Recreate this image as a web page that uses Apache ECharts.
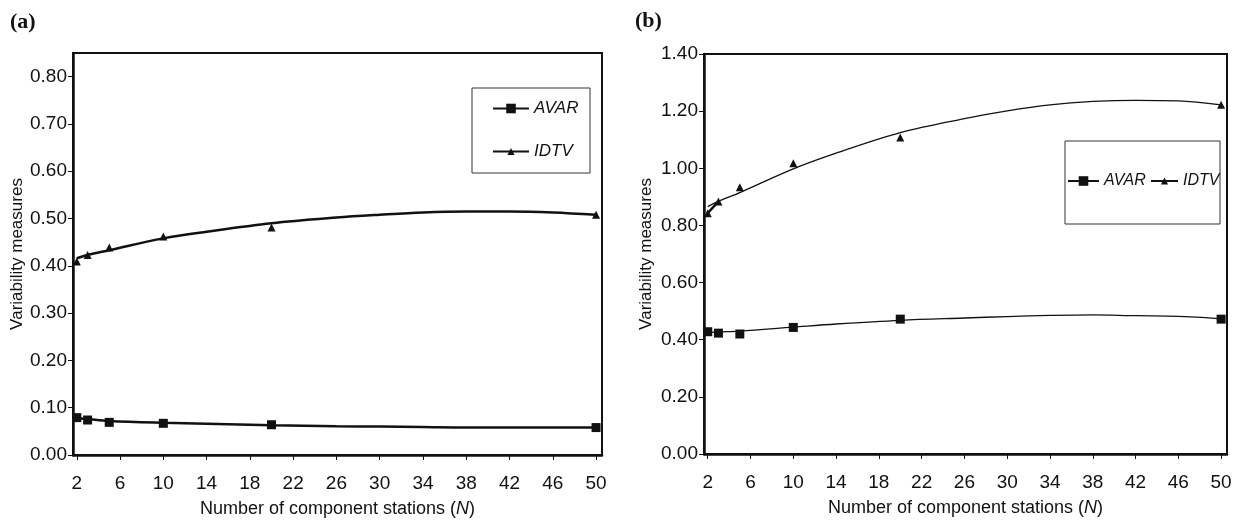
<!DOCTYPE html>
<html>
<head>
<meta charset="utf-8">
<style>
  html, body { margin: 0; padding: 0; background: #fff; }
  #chart { width: 1246px; height: 525px; }
</style>
<script src="https://cdn.jsdelivr.net/npm/echarts@6/dist/echarts.min.js"></script>
</head>
<body>
<div id="chart"></div>
<script>
// measured points
const stations = [2, 3, 5, 10, 20, 50]
const avarA = [0.079, 0.074, 0.069, 0.067, 0.064, 0.058]
const idtvA = [0.409, 0.423, 0.439, 0.462, 0.481, 0.508]
const avarB = [0.428, 0.423, 0.420, 0.443, 0.472, 0.472]
const idtvB = [0.843, 0.884, 0.934, 1.018, 1.108, 1.222]

// fitted trend curves
const trendN = [2, 3, 5, 10, 14, 20, 26, 30, 34, 38, 42, 46, 50]
const avarFitA = [0.078, 0.076, 0.072, 0.068, 0.066, 0.063, 0.061, 0.060, 0.059, 0.058, 0.058, 0.058, 0.058]
const idtvFitA = [0.416, 0.423, 0.433, 0.458, 0.472, 0.490, 0.502, 0.508, 0.513, 0.515, 0.515, 0.513, 0.508]
const avarFitB = [0.425, 0.427, 0.430, 0.444, 0.455, 0.468, 0.476, 0.481, 0.485, 0.487, 0.484, 0.482, 0.473]
const idtvFitB = [0.866, 0.884, 0.915, 0.998, 1.053, 1.125, 1.174, 1.201, 1.222, 1.234, 1.238, 1.236, 1.222]

const xTicks = [2, 6, 10, 14, 18, 22, 26, 30, 34, 38, 42, 46, 50]
const yTicksA = [0, 0.1, 0.2, 0.3, 0.4, 0.5, 0.6, 0.7, 0.8]
const yTicksB = [0, 0.2, 0.4, 0.6, 0.8, 1.0, 1.2, 1.4]

const ink = '#111'
const sans = 'Liberation Sans, Arial, sans-serif'

const pairs = (xs, ys) => xs.map((x, i) => [x, ys[i]])

const xAxisFor = (gridIndex) => ({
  type: 'value',
  gridIndex,
  min: 1.65,
  max: 50.55,
  name: 'Number of component stations ({i|N})',
  nameLocation: 'middle',
  nameGap: 45,
  nameTextStyle: {
    color: ink, fontFamily: sans, fontSize: 18,
    rich: { i: { fontStyle: 'italic', fontFamily: sans, fontSize: 18, color: ink } },
  },
  axisLine: { lineStyle: { color: ink, width: 2.5 } },
  axisTick: { customValues: xTicks, length: 5, lineStyle: { color: ink, width: 1 } },
  axisLabel: { customValues: xTicks, color: ink, fontFamily: sans, fontSize: 19, margin: 19 },
  splitLine: { show: false },
})

const yAxisFor = (gridIndex, max, ticks, gap) => ({
  type: 'value',
  gridIndex,
  min: 0,
  max,
  name: 'Variability measures',
  nameLocation: 'middle',
  nameGap: gap,
  nameTextStyle: { color: ink, fontFamily: sans, fontSize: 17 },
  axisLine: { lineStyle: { color: ink, width: 2.5 } },
  axisTick: { customValues: ticks, length: 5, lineStyle: { color: ink, width: 1 } },
  axisLabel: {
    customValues: ticks, color: ink, fontFamily: sans, fontSize: 19, margin: 6,
    formatter: (v) => v.toFixed(2),
  },
  splitLine: { show: false },
})

const fitLine = (name, idx, data, symbol, width) => ({
  name,
  type: 'line',
  xAxisIndex: idx,
  yAxisIndex: idx,
  data,
  smooth: 0.35,
  symbol,
  showSymbol: false,
  itemStyle: { color: ink },
  lineStyle: { color: ink, width },
  emphasis: { disabled: true },
  z: 3,
})

const dots = (idx, data, symbol, size) => ({
  name: symbol + idx,
  type: 'scatter',
  xAxisIndex: idx,
  yAxisIndex: idx,
  data,
  symbol,
  symbolSize: size,
  itemStyle: { color: ink, opacity: 1 },
  emphasis: { disabled: true },
  z: 4,
})

const legendFor = (name, left, top, itemWidth, itemHeight, fontSize) => ({
  data: [name],
  left, top,
  padding: 0,
  itemWidth, itemHeight,
  selectedMode: false,
  textStyle: { color: ink, fontFamily: sans, fontSize, fontStyle: 'italic' },
})

const chart = echarts.init(document.getElementById('chart'))
chart.setOption({
  animation: false,
  backgroundColor: '#fff',
  title: [
    { text: '(a)', left: 5, top: 6, textStyle: { fontFamily: 'Liberation Serif, serif', fontWeight: 'bold', fontSize: 22, color: ink } },
    { text: '(b)', left: 630, top: 5, textStyle: { fontFamily: 'Liberation Serif, serif', fontWeight: 'bold', fontSize: 22, color: ink } },
  ],
  grid: [
    { left: 73, top: 53, width: 529, height: 402, show: true, borderColor: ink, borderWidth: 2, backgroundColor: 'transparent' },
    { left: 704, top: 54, width: 523, height: 400, show: true, borderColor: ink, borderWidth: 2, backgroundColor: 'transparent' },
  ],
  xAxis: [xAxisFor(0), xAxisFor(1)],
  yAxis: [yAxisFor(0, 0.85, yTicksA, 47), yAxisFor(1, 1.4, yTicksB, 49)],
  legend: [
    legendFor('AVAR', 492, 100, 36, 12, 17),
    legendFor('IDTV', 492, 143, 36, 9, 17),
    legendFor('AVAR ', 1067, 173, 31, 12, 16),
    legendFor('IDTV ', 1150, 173, 27, 9, 16),
  ],
  graphic: [
    { type: 'rect', shape: { x: 472, y: 88, width: 118, height: 85 }, style: { fill: 'none', stroke: '#333', lineWidth: 1 }, z: 10 },
    { type: 'rect', shape: { x: 1065, y: 141, width: 155, height: 83 }, style: { fill: 'none', stroke: '#333', lineWidth: 1 }, z: 10 },
  ],
  series: [
    fitLine('AVAR', 0, pairs(trendN, avarFitA), 'rect', 2.5),
    fitLine('IDTV', 0, pairs(trendN, idtvFitA), 'triangle', 2.5),
    dots(0, pairs(stations, avarA), 'rect', 9),
    dots(0, pairs(stations, idtvA), 'triangle', 8),
    fitLine('AVAR ', 1, pairs(trendN, avarFitB), 'rect', 1.3),
    fitLine('IDTV ', 1, pairs(trendN, idtvFitB), 'triangle', 1.3),
    // short data segment joining the first two IDTV points in panel (b)
    {
      name: 'idtvB start',
      type: 'line',
      xAxisIndex: 1,
      yAxisIndex: 1,
      data: pairs(stations.slice(0, 2), idtvB.slice(0, 2)),
      symbol: 'none',
      lineStyle: { color: ink, width: 2.5 },
      emphasis: { disabled: true },
      z: 3,
    },
    dots(1, pairs(stations, avarB), 'rect', 9),
    dots(1, pairs(stations, idtvB), 'triangle', 8),
  ],
})
</script>
</body>
</html>
